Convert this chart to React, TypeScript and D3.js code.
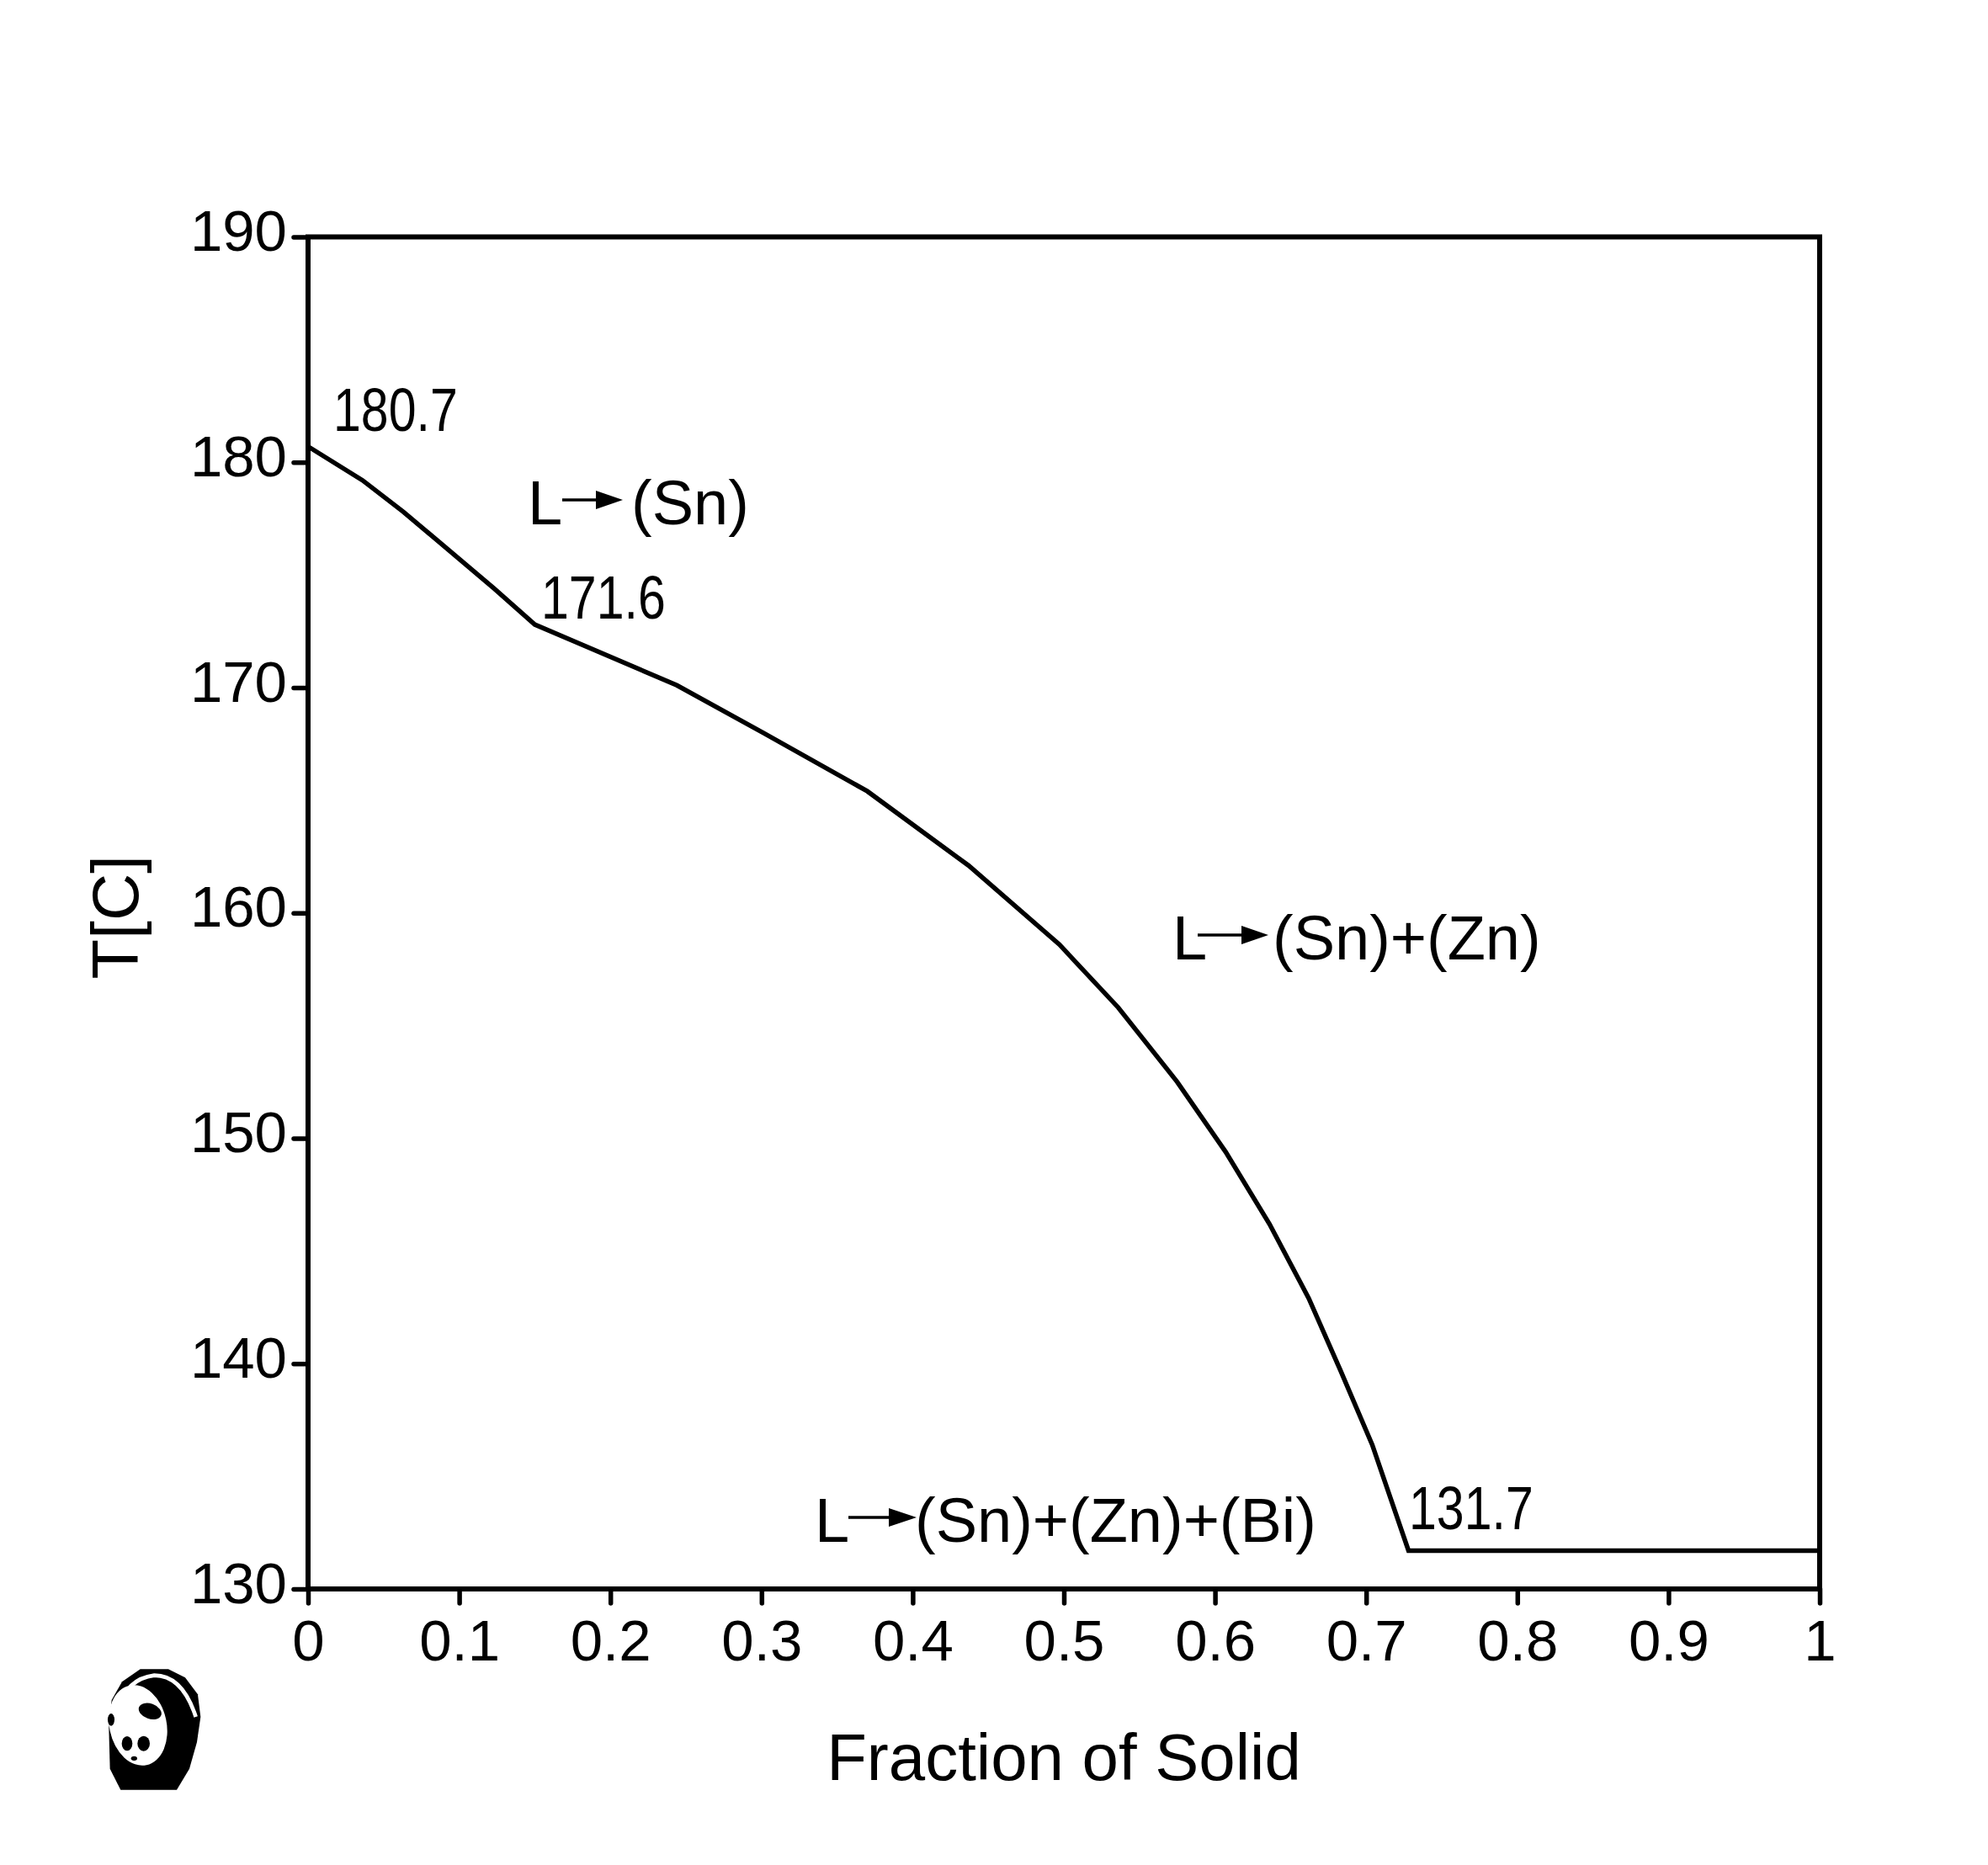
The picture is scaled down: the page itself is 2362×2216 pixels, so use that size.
import React, { useEffect, useRef } from "react";
import * as d3 from "d3";

// fraction of solid vs temperature
const solidFraction = [0, 0.036, 0.063, 0.086, 0.123, 0.15, 0.244, 0.301, 0.37, 0.437, 0.497, 0.536, 0.575, 0.607, 0.636, 0.662, 0.683, 0.704, 0.728, 1.0];
const temperature = [180.7, 179.2, 177.8, 176.5, 174.4, 172.8, 170.1, 168.0, 165.4, 162.1, 158.6, 155.8, 152.5, 149.4, 146.2, 142.9, 139.7, 136.4, 131.7, 131.7];

const xTicks = [0, 0.1, 0.2, 0.3, 0.4, 0.5, 0.6, 0.7, 0.8, 0.9, 1];
const yTicks = [130, 140, 150, 160, 170, 180, 190];

const valueLabels = ["180.7", "171.6", "131.7"];
const reactionLabels = ["(Sn)", "(Sn)+(Zn)", "(Sn)+(Zn)+(Bi)"];

const W = 2362;
const H = 2216;
const margin = { top: 281.5, right: 200, bottom: 328, left: 366 };
const FONT = "'Liberation Sans', Arial, sans-serif";

const App: React.FC = () => {
  const svgRef = useRef<SVGSVGElement | null>(null);

  useEffect(() => {
    if (!svgRef.current) return;
    const svg = d3.select(svgRef.current);
    svg.selectAll("*").remove();

    const x = d3.scaleLinear().domain([0, 1]).range([margin.left, W - margin.right]);
    const y = d3.scaleLinear().domain([130, 190]).range([H - margin.bottom, margin.top]);

    svg.append("rect").attr("width", W).attr("height", H).attr("fill", "#fff");

    // frame
    svg
      .append("rect")
      .attr("x", x(0))
      .attr("y", y(190))
      .attr("width", x(1) - x(0))
      .attr("height", y(130) - y(190))
      .attr("fill", "none")
      .attr("stroke", "#000")
      .attr("stroke-width", 6);

    const xAxis = d3
      .axisBottom(x)
      .tickValues(xTicks)
      .tickSize(17)
      .tickSizeOuter(0)
      .tickPadding(0)
      .tickFormat((d) => d3.format("")(+d));

    const gx = svg.append("g").attr("transform", `translate(0,${y(130)})`).call(xAxis);
    gx.select(".domain").remove();
    gx.selectAll(".tick line").attr("stroke", "#000").attr("stroke-width", 5.5).attr("stroke-linecap", "round");
    gx.selectAll(".tick text")
      .attr("y", 85)
      .attr("dy", null)
      .attr("fill", "#000")
      .style("font-family", FONT)
      .style("font-size", "69px");

    const yAxis = d3.axisLeft(y).tickValues(yTicks).tickSize(17).tickSizeOuter(0).tickPadding(0);
    const gy = svg.append("g").attr("transform", `translate(${x(0)},0)`).call(yAxis);
    gy.select(".domain").remove();
    gy.selectAll(".tick line").attr("stroke", "#000").attr("stroke-width", 5.5).attr("stroke-linecap", "round");
    gy.selectAll(".tick text")
      .attr("x", -25)
      .attr("dy", null)
      .attr("y", 16)
      .attr("fill", "#000")
      .style("font-family", FONT)
      .style("font-size", "69px");

    // curve
    const pts: [number, number][] = solidFraction.map((f, i) => [f, temperature[i]]);
    const line = d3
      .line<[number, number]>()
      .x((d) => x(d[0]))
      .y((d) => y(d[1]));
    svg
      .append("path")
      .datum(pts)
      .attr("d", line)
      .attr("fill", "none")
      .attr("stroke", "#000")
      .attr("stroke-width", 5.5)
      .attr("stroke-linejoin", "miter");

    // point values (condensed type)
    const valuePos = [
      [396, 512],
      [643, 735],
      [1674, 1817],
    ];
    valueLabels.forEach((t, i) => {
      svg
        .append("text")
        .attr("transform", `translate(${valuePos[i][0]},${valuePos[i][1]}) scale(0.82,1)`)
        .style("font-family", FONT)
        .style("font-size", "72px")
        .attr("fill", "#000")
        .text(t);
    });

    // reaction labels with drawn arrows
    const reactions = [
      { lx: 627, base: 623, a0: 668, a1: 708, a2: 740, rx: 750 },
      { lx: 1393, base: 1140, a0: 1423, a1: 1475, a2: 1507, rx: 1512 },
      { lx: 968, base: 1832, a0: 1008, a1: 1056, a2: 1089, rx: 1087 },
    ];
    reactions.forEach((r, i) => {
      const g = svg.append("g");
      g.append("text")
        .attr("x", r.lx)
        .attr("y", r.base)
        .style("font-family", FONT)
        .style("font-size", "74px")
        .attr("fill", "#000")
        .text("L");
      const ay = r.base - 29;
      g.append("line")
        .attr("x1", r.a0)
        .attr("x2", r.a1 + 2)
        .attr("y1", ay)
        .attr("y2", ay)
        .attr("stroke", "#000")
        .attr("stroke-width", 3.5);
      g.append("path")
        .attr("d", `M${r.a1},${ay - 11}L${r.a2},${ay}L${r.a1},${ay + 11}Z`)
        .attr("fill", "#000");
      g.append("text")
        .attr("x", r.rx)
        .attr("y", r.base)
        .style("font-family", FONT)
        .style("font-size", "74px")
        .attr("fill", "#000")
        .text(reactionLabels[i]);
    });

    // axis titles
    svg
      .append("text")
      .attr("x", (x(0) + x(1)) / 2)
      .attr("y", 2115)
      .attr("text-anchor", "middle")
      .style("font-family", FONT)
      .style("font-size", "78px")
      .attr("fill", "#000")
      .text("Fraction of Solid");

    svg
      .append("text")
      .attr("transform", `translate(164,${(y(130) + y(190)) / 2 + 5}) rotate(-90)`)
      .attr("text-anchor", "middle")
      .style("font-family", FONT)
      .style("font-size", "78px")
      .attr("fill", "#000")
      .text("T[C]");

    // small panda logo, bottom left
    const logo = svg.append("g").attr("transform", "translate(110,1970) scale(0.3333)");
    logo
      .append("path")
      .attr(
        "d",
        "M170,40 L270,40 L330,70 L375,130 L385,210 L372,300 L345,395 L300,470 L100,470 L62,395 L58,250 L68,150 L105,85 Z"
      )
      .attr("fill", "#000");
    logo
      .append("path")
      .attr("d", "M95,180 Q120,75 220,62 Q320,62 368,210")
      .attr("fill", "none")
      .attr("stroke", "#fff")
      .attr("stroke-width", 14);
    logo
      .append("ellipse")
      .attr("cx", 162)
      .attr("cy", 240)
      .attr("rx", 102)
      .attr("ry", 145)
      .attr("transform", "rotate(-12,162,240)")
      .attr("fill", "#fff");
    logo.append("ellipse").attr("cx", 205).attr("cy", 190).attr("rx", 42).attr("ry", 27).attr("transform", "rotate(20,205,190)").attr("fill", "#000");
    logo.append("ellipse").attr("cx", 123).attr("cy", 305).attr("rx", 19).attr("ry", 26).attr("fill", "#000");
    logo.append("ellipse").attr("cx", 182).attr("cy", 305).attr("rx", 22).attr("ry", 27).attr("fill", "#000");
    logo.append("ellipse").attr("cx", 148).attr("cy", 358).attr("rx", 11).attr("ry", 8).attr("fill", "#000");
    logo.append("ellipse").attr("cx", 66).attr("cy", 220).attr("rx", 12).attr("ry", 22).attr("fill", "#000");
  }, []);

  return (
    <svg
      ref={svgRef}
      width={W}
      height={H}
      viewBox={`0 0 ${W} ${H}`}
      style={{ position: "absolute", left: 0, top: 0, display: "block", background: "#fff" }}
    />
  );
};

export default App;
